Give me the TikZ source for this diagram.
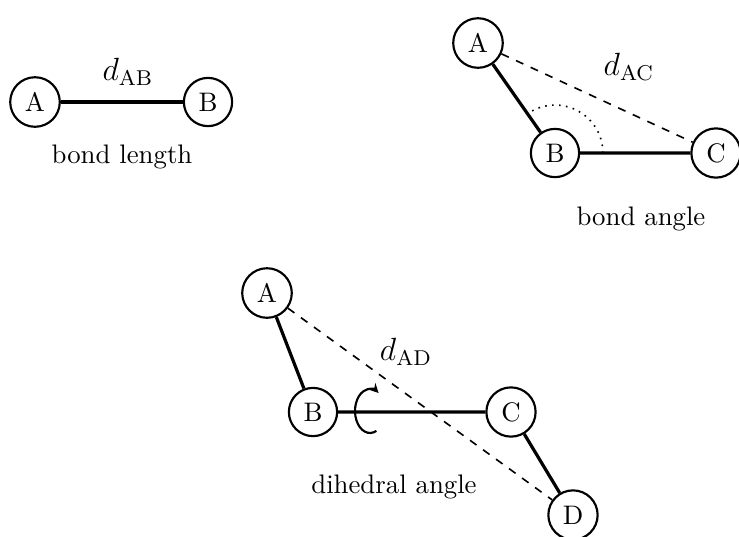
\documentclass[tikz,border=0pt]{standalone}
\usepackage{amsmath,amssymb}
\usepackage{tikz}
\usetikzlibrary{arrows.meta,positioning,calc}

\begin{document}
\begin{tikzpicture}[x=0.01312cm,y=-0.01312cm,
  atom/.style={circle,draw,thick,inner sep=2.9pt},
  bond/.style={very thick},
  dist/.style={semithick,dashed},
  dlabel/.style={font=\large}]
\useasboundingbox (0,0) rectangle (739,536);
% bond length
\node[atom] (lA) at (35,102) {A};
\node[atom] (lB) at (208,102) {B};
\draw[bond] (lA) -- (lB);
\node[dlabel] (dab) at (128,72) {$d_{\mathrm{AB}}$};
\node (tlen) at (122,157) {bond length};
% bond angle
\node[atom] (aA) at (478,43) {A};
\node[atom] (aB) at (555,153) {B};
\node[atom] (aC) at (716,153) {C};
\draw[bond] (aA) -- (aB) -- (aC);
\draw[dist] (aA) -- (aC);
\draw[semithick,dotted] (aB.center) ++(0:17.9pt) arc[start angle=0,end angle=125,radius=17.9pt];
\node[dlabel] (dac) at (629,67) {$d_{\mathrm{AC}}$};
\node (tang) at (641,219) {bond angle};
% dihedral angle
\node[atom] (dA) at (267,293) {A};
\node[atom] (dB) at (313,412) {B};
\node[atom] (dC) at (511,412) {C};
\node[atom] (dD) at (573,515) {D};
\draw[bond] (dA) -- (dB) -- (dC) -- (dD);
\draw[dist] (dA) -- (dD);
\coordinate (rot) at (370,411);
\draw[thick,-{Stealth[length=3.5pt,width=3.5pt]}] (rot) ++(-65:5.6pt and 8.2pt) arc[start angle=-65,end angle=-305,x radius=5.6pt,y radius=8.2pt];
\node[dlabel] (dad) at (406,352) {$d_{\mathrm{AD}}$};
\node (tdih) at (394,487) {dihedral angle};
\end{tikzpicture}
\end{document}
